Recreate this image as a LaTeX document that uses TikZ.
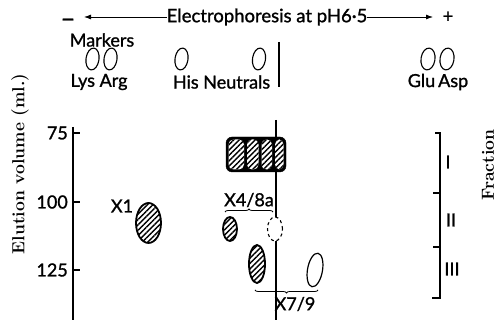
\documentclass[tikz,border=0pt]{standalone}
\usepackage{fontspec}
\newfontfamily\lato[FakeBold=1.2]{Lato}
\usetikzlibrary{patterns.meta,decorations.pathreplacing,shapes.geometric,arrows.meta}
\begin{document}
\begin{tikzpicture}[x=1pt,y=-1pt,
  lab/.style={font=\lato\fontsize{18}{18}\selectfont, inner sep=0pt},
  serifbold/.style={font=\bfseries\fontsize{17.5}{17.5}\selectfont, inner sep=0pt, rotate=90},
  ax/.style={line width=1.6pt},
  hatchfill/.style={preaction={fill=white}, pattern={Lines[angle=45,distance=3.8pt,line width=1.4pt]}},
  hatchspot/.style={ellipse, inner sep=0pt, draw, line width=1.8pt, hatchfill},
  spot/.style={ellipse, inner sep=0pt, draw, line width=1.1pt},
  arr/.style={line width=0.8pt, -{Latex[length=7pt,width=5pt]}},
  brc/.style={line width=0.8pt, decorate, decoration={brace, amplitude=3pt}}
]
\clip (0,0) rectangle (496,320);
% header
\node[lab, font=\lato\fontsize{26}{26}\selectfont] (minus) at (68,23) {–};
\node[lab, font=\lato\fontsize{18.5}{18.5}\selectfont] (title) at (267,17) {Electrophoresis at pH6·5};
\node[lab] (plus) at (448,17) {+};
\coordinate (la) at (84,17);
\coordinate (ra) at (433,17);
\draw[arr] (title.west) -- (la);
\draw[arr] (title.east) -- (ra);
% markers
\node[lab] (markers) at (102,40) {Markers};
\node[spot, minimum width=13pt, minimum height=22pt, rotate=-8] (lys) at (92.5,59) {};
\node[spot, minimum width=13pt, minimum height=22pt, rotate=-8] (arg) at (110.5,59) {};
\node[spot, minimum width=13pt, minimum height=22pt, rotate=-8] (his) at (181.5,59) {};
\node[spot, minimum width=13pt, minimum height=22pt, rotate=-8] (neu) at (259,59) {};
\node[spot, minimum width=14pt, minimum height=22pt, rotate=-8] (glu) at (428,59) {};
\node[spot, minimum width=14pt, minimum height=22pt, rotate=-8] (asp) at (447,59) {};
\node[lab] (lysarg) at (99,82) {Lys Arg};
\node[lab] (hisneu) at (221.5,82) {His Neutrals};
\node[lab] (gluasp) at (438,82) {Glu\,Asp};
\coordinate (ot) at (279,42);
\coordinate (ob) at (279,87);
\draw[line width=1.2pt] (ot) -- (ob);
% y axis
\node[serifbold] (ylab) at (20,164) {Elution volume (ml.)};
\coordinate (at) at (73,127);
\coordinate (ab) at (73,320);
\draw[ax] (at) -- (ab);
\draw[ax] (72.2,133) -- (80,133);
\draw[ax] (72.2,202) -- (80,202);
\draw[ax] (72.2,270) -- (80,270);
\node[lab, anchor=east] (t75) at (68,133) {75};
\node[lab, anchor=east] (t100) at (68,202) {100};
\node[lab, anchor=east] (t125) at (68,270) {125};
% main vertical line
\coordinate (mt) at (276,120);
\coordinate (mb) at (276,320);
\draw[line width=1.3pt] (mt) -- (mb);
% X1
\node[lab] (x1) at (122,206) {X1};
\node[hatchspot, minimum width=25pt, minimum height=40pt] (sx1) at (148.5,223) {};
% block
\draw[fill=black, rounded corners=6pt] (226,137) rectangle (286,172);
\path[hatchfill, rounded corners=5pt] (228.5,139.5) rectangle (244,169.5);
\path[hatchfill, rounded corners=5pt] (247,139.5) rectangle (258.5,169.5);
\path[hatchfill, rounded corners=5pt] (261.5,139.5) rectangle (272,169.5);
\path[hatchfill, rounded corners=5pt] (275,139.5) rectangle (283.5,169.5);
% X4/8a
\node[lab] (x48) at (249,200) {X4/8a};
\coordinate (b1l) at (225,212);
\coordinate (b1r) at (273,212);
\draw[brc] (b1l) -- (b1r);
\node[hatchspot, minimum width=14pt, minimum height=24pt] (s4) at (230,229) {};
\node[ellipse, inner sep=0pt, draw, dashed, line width=1.1pt, fill=white, minimum width=15pt, minimum height=24pt] (s8a) at (275,229) {};
\node[hatchspot, minimum width=16pt, minimum height=38pt] (s7) at (257,264) {};
\node[spot, line width=1.2pt, minimum width=15pt, minimum height=34pt, rotate=-10] (s9) at (315,270) {};
\coordinate (b2r) at (318,290);
\coordinate (b2l) at (255,290);
\draw[brc] (b2r) -- (b2l);
\node[lab] (x79) at (295,304) {X7/9};
% fraction bracket
\draw[ax] (435,133) -- (440,133) -- (440,298) -- (432,298);
\draw[ax] (433,193) -- (440.8,193);
\draw[ax] (433,247) -- (440.8,247);
\node[lab] (f1) at (448,162) {I};
\node[lab] (f2) at (451,220) {II};
\node[lab] (f3) at (452,269) {III};
\node[serifbold] (flab) at (488,165) {Fraction};
\end{tikzpicture}
\end{document}
